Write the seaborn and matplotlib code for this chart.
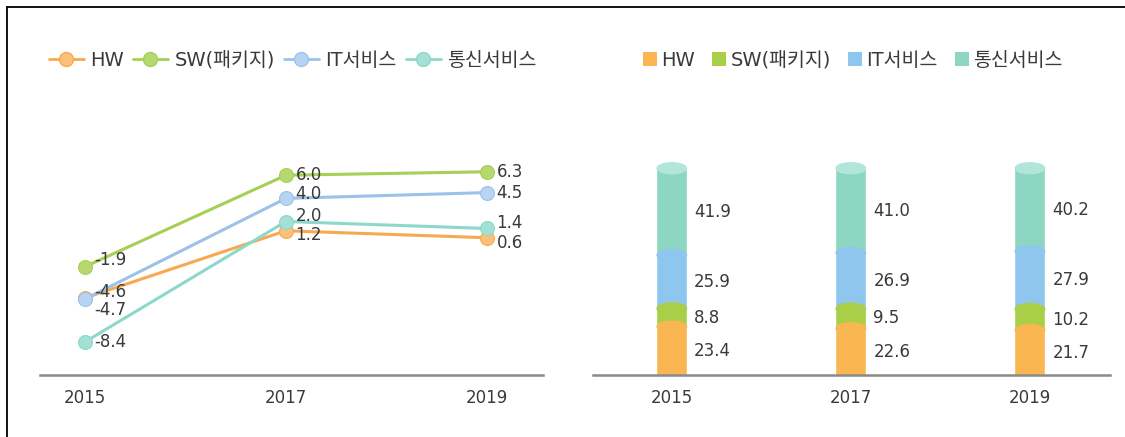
import matplotlib
matplotlib.use("Agg")
import matplotlib.pyplot as plt
import seaborn as sns
import pandas as pd
import numpy as np
from matplotlib.patches import Ellipse, Patch
from matplotlib.lines import Line2D

# ---------------- data ----------------
years = ["2015", "2017", "2019"]
series = ["HW", "SW(패키지)", "IT서비스", "통신서비스"]
growth_hw = [-4.6, 1.2, 0.6]
growth_sw = [-1.9, 6.0, 6.3]
growth_it = [-4.7, 4.0, 4.5]
growth_tel = [-8.4, 2.0, 1.4]
share_hw = [23.4, 22.6, 21.7]
share_sw = [8.8, 9.5, 10.2]
share_it = [25.9, 26.9, 27.9]
share_tel = [41.9, 41.0, 40.2]

# ---------------- style ----------------
sns.set_theme(style="white")
FAM = ['DejaVu Sans', 'Noto Sans CJK KR']
plt.rcParams['font.family'] = FAM
line_colors = ["#F6A94E", "#A5CF55", "#9CC2EA", "#8DD8CA"]
marker_colors = ["#FBC07A", "#B5D970", "#B7D4F3", "#A5E0D4"]
bar_colors = ["#FBB654", "#A9CF48", "#8EC6EE", "#8DD6C2"]
cap_color = "#B3E6DA"
text_color = "#3A3A3A"
base_color = "#8A8A8A"
num_size = 12
leg_size = 14

fig = plt.figure(figsize=(11.25, 4.37), dpi=100)
W, H = 1125, 437

def ax_rect(x0, x1, ytop, ybot):
    return [x0 / W, (H - ybot) / H, (x1 - x0) / W, (ybot - ytop) / H]

# ---------------- left: line chart ----------------
ax1 = fig.add_axes(ax_rect(40, 543, 100, 375))
growth = [growth_hw, growth_sw, growth_it, growth_tel]
rows = []
for s, vals in zip(series, growth):
    for i, v in enumerate(vals):
        rows.append({"x": i, "value": v, "series": s})
df_line = pd.DataFrame(rows)
sns.lineplot(data=df_line, x="x", y="value", hue="series", hue_order=series,
             palette=dict(zip(series, line_colors)), linewidth=2.2,
             legend=False, ax=ax1)
for s, vals, mc, lc in zip(series, growth, marker_colors, line_colors):
    ax1.plot(range(len(vals)), vals, linestyle="none", marker="o",
             markersize=10, markerfacecolor=mc, markeredgecolor=lc,
             markeredgewidth=0.8, zorder=5)

label_dy = {  # vertical nudges in points to avoid overlap
    ("HW", 0): 4, ("IT서비스", 0): -8, ("SW(패키지)", 0): 5,
    ("IT서비스", 1): 3, ("통신서비스", 1): 4, ("HW", 1): -3,
    ("통신서비스", 2): 4, ("HW", 2): -4,
}
for s, vals in zip(series, growth):
    for i, v in enumerate(vals):
        dy = label_dy.get((s, i), 0)
        ax1.annotate(f"{v:.1f}", (i, v), xytext=(7, dy), textcoords="offset points",
                     ha="left", va="center", fontsize=num_size, color=text_color, zorder=6)

ax1.set_xlim(-0.224, 2.28)
ax1.set_ylim(-11.26, 12.5)
ax1.set_xticks(range(len(years)))
ax1.set_xticklabels(years)
ax1.set_yticks([])
ax1.set_xlabel("")
ax1.set_ylabel("")
for sp in ["top", "right", "left"]:
    ax1.spines[sp].set_visible(False)
ax1.spines["bottom"].set_color(base_color)
ax1.spines["bottom"].set_linewidth(1.8)
ax1.tick_params(axis="x", length=0, pad=10, labelsize=num_size, labelcolor=text_color)

handles1 = [Line2D([0], [0], color=lc, marker="o", markersize=10,
                   markerfacecolor=mc, markeredgecolor=lc, linewidth=2)
            for lc, mc in zip(line_colors, marker_colors)]
fig.legend(handles1, series, loc="center left", bbox_to_anchor=(31 / W, (H - 60) / H),
           ncol=4, frameon=False, prop=dict(family=FAM, size=leg_size), handlelength=1.8,
           handletextpad=0.35, columnspacing=0.45, labelcolor=text_color)

# ---------------- right: stacked cylinder bars ----------------
ax2 = fig.add_axes(ax_rect(593, 1110, 100, 375))
shares = [share_hw, share_sw, share_it, share_tel]
cum = np.cumsum(np.array(shares), axis=0)
bar_w = 0.173
df_bar = pd.DataFrame({"year": years})
for k in range(len(series) - 1, -1, -1):
    df_bar["top"] = cum[k]
    sns.barplot(data=df_bar, x="year", y="top", color=bar_colors[k], width=bar_w,
                saturation=1, ax=ax2, zorder=2)
# cylinder caps
cap_h = 6.0
for i in range(len(years)):
    for k in range(len(series) - 1):
        ax2.add_patch(Ellipse((i, cum[k][i]), bar_w, cap_h, facecolor=bar_colors[k],
                              edgecolor="none", zorder=3 + k))
    ax2.add_patch(Ellipse((i, cum[-1][i]), bar_w, cap_h, facecolor=cap_color,
                          edgecolor="none", zorder=10))
# labels
for k in range(len(series)):
    for i in range(len(years)):
        center = cum[k][i] - shares[k][i] / 2
        ax2.annotate(f"{shares[k][i]:.1f}", (i + bar_w / 2, center), xytext=(5, 0),
                     textcoords="offset points", ha="left", va="center",
                     fontsize=num_size, color=text_color, zorder=11)

ax2.set_xlim(-0.44, 2.447)
ax2.set_ylim(0, 133)
ax2.set_yticks([])
ax2.set_xlabel("")
ax2.set_ylabel("")
for sp in ["top", "right", "left"]:
    ax2.spines[sp].set_visible(False)
ax2.spines["bottom"].set_color(base_color)
ax2.spines["bottom"].set_linewidth(1.8)
ax2.spines["bottom"].set_zorder(12)
ax2.tick_params(axis="x", length=0, pad=10, labelsize=num_size, labelcolor=text_color)

handles2 = [Patch(facecolor=c, edgecolor="none") for c in bar_colors]
fig.legend(handles2, series, loc="center left", bbox_to_anchor=(625 / W, (H - 60) / H),
           ncol=4, frameon=False, prop=dict(family=FAM, size=leg_size), handlelength=0.72,
           handleheight=0.75, handletextpad=0.22, columnspacing=0.9, labelcolor=text_color)

# outer frame lines (left and top)
fig.add_artist(Line2D([7 / W, 7 / W], [0, (H - 7) / H], color="black", linewidth=1.3,
                      transform=fig.transFigure))
fig.add_artist(Line2D([7 / W, 1], [(H - 7) / H, (H - 7) / H], color="black", linewidth=1.3,
                      transform=fig.transFigure))

fig.savefig("out.png", dpi=100, facecolor="white")
